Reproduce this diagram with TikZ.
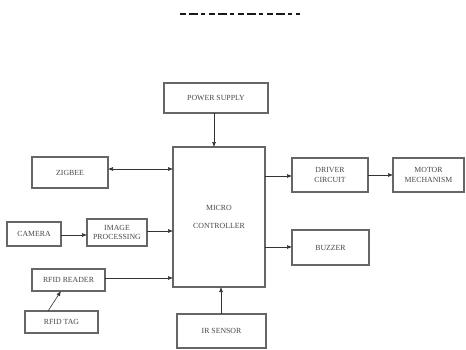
\documentclass[tikz,border=0pt]{standalone}
\usepackage{fontspec}
\setmainfont{Liberation Serif}
\usetikzlibrary{arrows.meta}
\begin{document}
\begin{tikzpicture}[x=1pt,y=-1pt,
  blk/.style={draw=black!60,line width=1.1pt,fill=white,inner sep=0pt},
  lbl/.style={font=\fontsize{7.8}{9.2}\selectfont,text=black!72,align=center},
  arr/.style={draw=black!80,line width=0.6pt,-{Latex[length=5pt,width=4pt]}},
  darr/.style={draw=black!80,line width=0.6pt,{Latex[length=5pt,width=4pt]}-{Latex[length=5pt,width=4pt]}}]
\useasboundingbox (0,0) rectangle (466,349);
% clipped heading remnant
\draw[black!90,line width=1.1pt,dash pattern=on 6pt off 3pt on 9pt off 3pt on 4pt off 4pt] (180,14) -- (300,14);
% boxes
\draw[blk] (164,83) rectangle (268,113); \node[lbl] (ps) at (216,98) {POWER SUPPLY};
\coordinate (psb) at (214,113);
\draw[blk] (173,147) rectangle (265,287); \node[lbl] (mc) at (219,217) {MICRO\\[8pt]CONTROLLER};
\draw[blk] (32,157) rectangle (108,188); \node[lbl] (zb) at (70,172.5) {ZIGBEE};
\draw[blk] (7,222) rectangle (61,246); \node[lbl] (cam) at (34,234) {CAMERA};
\draw[blk] (87,219) rectangle (147,246); \node[lbl] (ip) at (117,232.5) {IMAGE\\PROCESSING};
\draw[blk] (32,269) rectangle (105,291); \node[lbl] (rr) at (68.5,280) {RFID READER};
\draw[blk] (25,311) rectangle (98,333); \node[lbl] (rt) at (61.5,322) {RFID TAG};
\draw[blk] (292,158) rectangle (368,192); \node[lbl] (dc) at (330,175) {DRIVER\\CIRCUIT};
\draw[blk] (393,158) rectangle (464,192); \node[lbl] (mm) at (428.5,175) {MOTOR\\MECHANISM};
\draw[blk] (292,230) rectangle (369,265); \node[lbl] (bz) at (330.5,247.5) {BUZZER};
\draw[blk] (177,314) rectangle (266,348); \node[lbl] (ir) at (221.5,331) {IR SENSOR};
% coordinates for connectors
\coordinate (mct) at (214,147);
\coordinate (mcb) at (221,287);
\coordinate (irt) at (221,314);
\coordinate (zbr) at (108,169); \coordinate (mcz) at (173,169);
\coordinate (camr) at (61,235); \coordinate (ipl) at (87,235);
\coordinate (ipr) at (147,231); \coordinate (mci) at (173,231);
\coordinate (rrr) at (105,278); \coordinate (mcr) at (173,278);
\coordinate (rtt) at (48,311); \coordinate (rrb) at (61,291);
\coordinate (mcd) at (265,176); \coordinate (dcl) at (292,176);
\coordinate (dcr) at (368,175); \coordinate (mml) at (393,175);
\coordinate (mcbz) at (265,247); \coordinate (bzl) at (292,247);
% connectors
\draw[arr] (psb) -- (mct);
\draw[arr] (irt) -- (mcb);
\draw[darr] (zbr) -- (mcz);
\draw[arr] (camr) -- (ipl);
\draw[arr] (ipr) -- (mci);
\draw[arr] (rrr) -- (mcr);
\draw[arr] (rtt) -- (rrb);
\draw[arr] (mcd) -- (dcl);
\draw[arr] (dcr) -- (mml);
\draw[arr] (mcbz) -- (bzl);
\end{tikzpicture}
\end{document}
